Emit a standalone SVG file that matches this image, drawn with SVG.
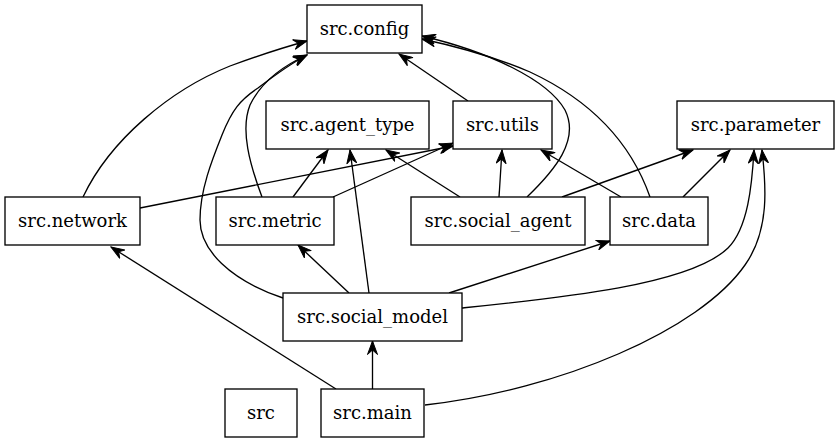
<svg xmlns="http://www.w3.org/2000/svg" width="839" height="443" viewBox="0 0 839 443">
<style>
.n rect{fill:#fff;stroke:#000;stroke-width:1.33}
.n text{font-family:"DejaVu Serif","Liberation Serif",serif;font-size:18px;text-anchor:middle;fill:#000}
#edges path{fill:none;stroke:#000;stroke-width:1.33;marker-end:url(#ah)}
</style>
<defs>
<marker id="ah" markerUnits="userSpaceOnUse" markerWidth="15" markerHeight="11" refX="14" refY="5.5" orient="auto" viewBox="0 0 15 11">
<path d="M0.5,0.5 L14,5.5 L0.5,10.5 L5,5.5 z" fill="#000" stroke="#000" stroke-width="1"/>
</marker>
</defs>
<rect width="839" height="443" fill="#fff"/>
<g id="edges">
<path d="M83,197 C110,140 170,90 230,66 C260,55 285,47 307,41"/>
<path d="M140,208 L453,146"/>
<path d="M262,197 C250,165 240,130 250,105 C262,80 285,65 307,55"/>
<path d="M293,197 L328,150"/>
<path d="M333,197 L453,143"/>
<path d="M283,298 C230,280 200,250 200,220 C200,190 212,160 222,135 C232,110 240,100 258,88 C275,75 292,63 307,55"/>
<path d="M369,293 L350,150"/>
<path d="M349,293 L298,245"/>
<path d="M449,293 L610,241"/>
<path d="M462,308 C560,298 690,285 728,248 C748,228 752,185 754,150"/>
<path d="M460,197 L386,150"/>
<path d="M499,197 L502,150"/>
<path d="M527,197 C555,170 580,140 565,110 C548,80 490,52 422,36"/>
<path d="M562,197 L693,150"/>
<path d="M621,197 L541,150"/>
<path d="M650,197 C630,140 590,100 530,72 C490,55 450,45 422,39"/>
<path d="M683,197 L730,150"/>
<path d="M468,101 L399,54"/>
<path d="M372.5,389 L372.5,341"/>
<path d="M336,389 L111,247"/>
<path d="M425,405 C560,390 700,330 745,265 C770,230 766,185 762,150"/>
</g>
<g id="src.config" class="n"><rect x="307" y="5" width="115" height="48"/><text x="364.5" y="35">src.config</text></g>
<g id="src.agent_type" class="n"><rect x="266" y="101" width="163" height="48"/><text x="347.5" y="131">src.agent_type</text></g>
<g id="src.utils" class="n"><rect x="453" y="101" width="99" height="48"/><text x="502.5" y="131">src.utils</text></g>
<g id="src.parameter" class="n"><rect x="677" y="101" width="157" height="48"/><text x="755.5" y="131">src.parameter</text></g>
<g id="src.network" class="n"><rect x="5" y="197" width="135" height="48"/><text x="72.5" y="227">src.network</text></g>
<g id="src.metric" class="n"><rect x="216" y="197" width="118" height="48"/><text x="275" y="227">src.metric</text></g>
<g id="src.social_agent" class="n"><rect x="411" y="197" width="174" height="48"/><text x="498" y="227">src.social_agent</text></g>
<g id="src.data" class="n"><rect x="610" y="197" width="98" height="48"/><text x="659" y="227">src.data</text></g>
<g id="src.social_model" class="n"><rect x="283" y="293" width="179" height="48"/><text x="372.5" y="323">src.social_model</text></g>
<g id="src" class="n"><rect x="225" y="389" width="72" height="48"/><text x="261" y="419">src</text></g>
<g id="src.main" class="n"><rect x="321" y="389" width="103" height="48"/><text x="372.5" y="419">src.main</text></g>
</svg>
